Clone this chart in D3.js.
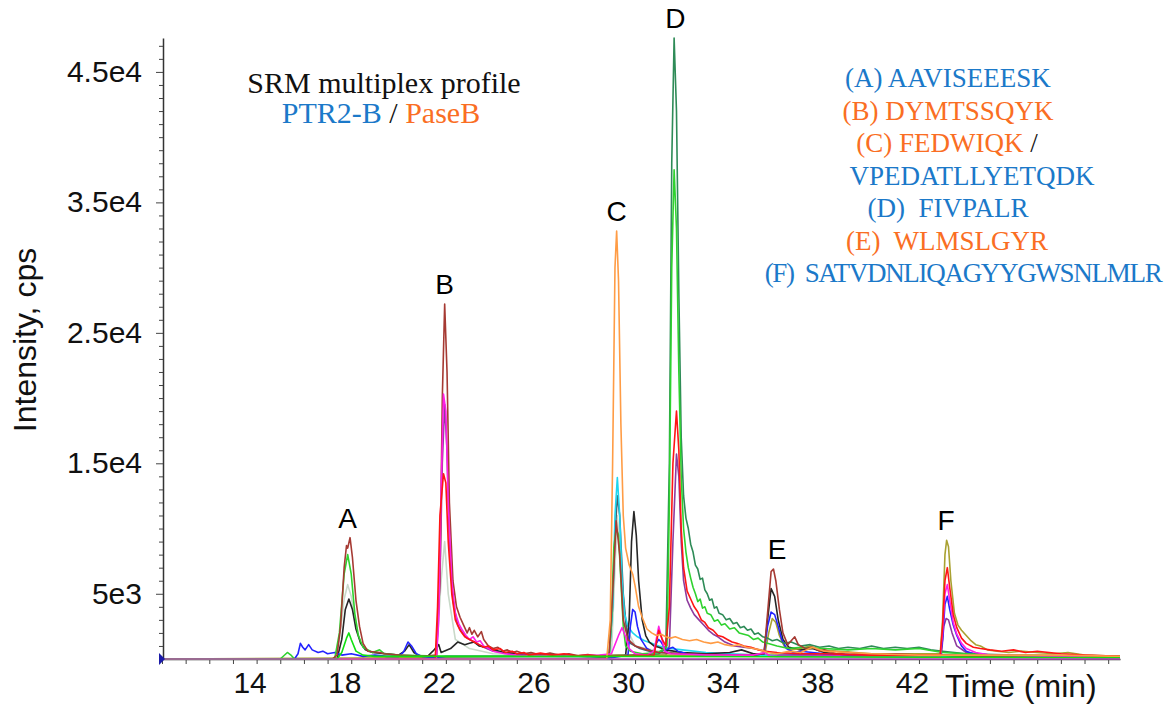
<!DOCTYPE html>
<html lang="en">
<head>
<meta charset="UTF-8">
<title>SRM multiplex profile</title>
<script src="https://cdn.jsdelivr.net/npm/d3@7"></script>
<style>
    body { margin: 0; background: #fff; }
</style>
</head>
<body>
<script>
    // axis ticks
    var xTicks = d3.range(10, 51);
    var xTickLabels = [14, 18, 22, 26, 30, 34, 38, 42];
    var yTicks = d3.range(0, 48000, 1000);
    var yLabelValues = [5000, 15000, 25000, 35000, 45000];
    var yLabelText = ["5e3", "1.5e4", "2.5e4", "3.5e4", "4.5e4"];

    // peak letters and their retention times (min)
    var peakNames = ["A", "B", "C", "D", "E", "F"];
    var peakTimes = [17.85, 21.95, 29.22, 31.7, 36.0, 43.15];

    // traces: [time (min), intensity (cps)]
    var paleTrace = [[10,0],[17.3,0],[17.5,1500],[17.7,4600],[17.85,5700],[18.0,4800],[18.2,2600],[18.4,1200],[18.7,600],[19.5,300],[21.6,200],[21.8,6000],[21.95,9000],[22.1,5000],[22.4,1500],[23,800],[24,400],[28,200],[29.0,300],[29.15,7000],[29.25,11000],[29.4,7000],[29.6,2500],[30,1000],[31,600],[33,400],[50.5,100]];
    var slateTrace = [[10,0],[28.9,0],[29.05,4000],[29.15,9500],[29.25,12500],[29.35,11000],[29.5,5000],[29.65,2000],[29.8,1200],[30.2,800],[30.6,600],[31,500],[32,400],[34,300],[40,200],[50.5,100]];
    var cyanTrace = [[10,0],[28.9,0],[29.05,4000],[29.15,11000],[29.25,13900],[29.35,11000],[29.45,6000],[29.55,3500],[29.7,2500],[29.9,2000],[30.1,1700],[30.4,1400],[30.7,1200],[31,1000],[31.5,800],[32,700],[33,500],[34,400],[35,300],[36,200],[50.5,100]];
    var purpleTrace = [[10,0],[21.6,0],[21.75,6000],[21.85,15000],[21.95,19500],[22.05,16000],[22.15,9000],[22.3,4500],[22.5,2600],[22.7,2000],[22.9,1600],[23.2,1300],[23.6,900],[24,600],[25,400],[28,200],[31.3,300],[31.45,1000],[31.6,9000],[31.75,15700],[31.85,14000],[31.95,9000],[32.05,6000],[32.2,4500],[32.35,3900],[32.5,3400],[32.7,3000],[32.9,2600],[33.1,2200],[33.3,1900],[33.5,1700],[33.8,1300],[34.2,1000],[34.6,900],[35,800],[35.5,600],[36,400],[38,300],[42.95,300],[43.05,2500],[43.15,3100],[43.25,3000],[43.4,2000],[43.6,1000],[44,500],[45,300],[50.5,100]];
    var blackTrace = [[10,0],[17.4,0],[17.6,1500],[17.75,3800],[17.9,4600],[18.05,3800],[18.2,2300],[18.4,1200],[18.6,700],[18.9,500],[19.5,400],[20,300],[20.25,600],[20.45,1100],[20.65,500],[21,100],[21.2,150],[21.45,600],[21.7,1100],[21.8,500],[22.2,800],[22.5,1300],[22.8,1100],[23.0,1200],[23.2,1300],[23.4,1000],[23.7,900],[24,700],[24.5,500],[25,400],[26,300],[28,200],[29.6,300],[29.75,3000],[29.85,9000],[29.95,11300],[30.05,9500],[30.15,6000],[30.3,3000],[30.45,1800],[30.6,1300],[30.8,1000],[31,900],[31.3,700],[32,500],[33,400],[34,500],[34.5,700],[35,400],[35.45,400],[35.6,3000],[35.75,5400],[35.9,4800],[36.05,3000],[36.25,1500],[36.5,900],[37,700],[37.5,800],[38,500],[39,300],[43,300],[50.5,100]];
    var oliveTrace = [[10,0],[20,100],[30,300],[35,300],[35.5,500],[35.65,2000],[35.8,3100],[35.95,2800],[36.1,1800],[36.3,1000],[36.6,700],[37,800],[37.4,1000],[37.8,700],[38.5,600],[40,400],[42,400],[42.9,400],[43.0,3000],[43.1,8000],[43.17,9100],[43.25,8600],[43.35,6000],[43.5,3500],[43.65,2600],[43.8,2200],[44.0,1800],[44.2,1400],[44.4,1100],[44.6,1000],[44.9,700],[45.3,600],[45.8,500],[46.3,600],[47,500],[47.7,400],[48.3,500],[49,300],[50.5,200]];
    var blueTrace = [[10,0],[15.6,0],[15.75,400],[15.85,1200],[15.95,900],[16.05,700],[16.2,1100],[16.35,700],[16.6,500],[16.8,600],[17.0,400],[17.3,500],[17.6,300],[18,400],[18.5,200],[19,300],[19.5,200],[20,200],[20.2,500],[20.4,1300],[20.55,1000],[20.75,400],[21,200],[21.5,100],[22,200],[28,200],[29,100],[29.7,300],[29.8,2500],[29.9,3800],[30.0,3600],[30.1,2500],[30.25,1500],[30.5,800],[30.8,500],[30.9,1200],[31.0,1500],[31.1,1300],[31.3,700],[31.6,900],[31.8,600],[32.2,400],[33,300],[35,300],[35.45,400],[35.6,2500],[35.75,3600],[35.9,3400],[36.05,2500],[36.2,1500],[36.4,800],[36.7,500],[37,600],[38,400],[40,300],[42.9,200],[43.0,1500],[43.1,4200],[43.2,4800],[43.3,3800],[43.45,2600],[43.6,1800],[43.8,1000],[44,600],[44.3,400],[44.6,300],[46,200],[50.5,100]];
    var seagreenTrace = [[10,0],[28,0],[29,200],[30,300],[31,400],[31.3,800],[31.45,15000],[31.55,38000],[31.65,47600],[31.75,42000],[31.85,28000],[31.95,17000],[32.05,12500],[32.15,10800],[32.25,10000],[32.35,8800],[32.45,8200],[32.55,7200],[32.65,6900],[32.75,6100],[32.85,6200],[32.95,5300],[33.05,5000],[33.15,4500],[33.25,4600],[33.35,3900],[33.45,4000],[33.55,3500],[33.7,3400],[33.85,3000],[34.0,3100],[34.15,2700],[34.3,2800],[34.45,2400],[34.6,2500],[34.75,2200],[34.9,2300],[35.05,1900],[35.2,2000],[35.4,1700],[35.6,1600],[35.8,1400],[36.0,1500],[36.3,1200],[36.6,1300],[37,1000],[37.4,1100],[37.8,900],[38.2,1000],[38.6,800],[39,900],[39.5,800],[40,1000],[40.5,800],[41,900],[41.5,800],[42,900],[42.5,700],[43,600],[44,400],[46,300],[50.5,200]];
    var greenTrace = [[10,0],[15.0,0],[15.3,500],[15.45,300],[15.6,0],[17.3,0],[17.5,2000],[17.7,6500],[17.85,8000],[18.0,6500],[18.15,3500],[18.3,1800],[18.5,900],[18.9,500],[19.2,700],[19.4,400],[20,300],[22,200],[26,200],[28.9,200],[29.0,3000],[29.1,8500],[29.2,10000],[29.3,9500],[29.4,6000],[29.5,2500],[29.6,1000],[29.8,600],[30.3,400],[31,500],[31.35,1000],[31.45,12000],[31.55,30000],[31.65,37500],[31.75,33000],[31.85,22000],[31.95,14000],[32.05,10000],[32.15,8200],[32.25,7000],[32.35,6200],[32.45,5500],[32.55,5000],[32.65,4400],[32.75,4600],[32.85,3900],[32.95,4000],[33.05,3500],[33.2,3400],[33.35,2900],[33.5,3000],[33.65,2600],[33.8,2700],[34,2300],[34.2,2400],[34.4,2000],[34.6,1900],[34.8,1800],[35,1500],[35.2,1600],[35.4,1300],[35.6,1200],[36,1000],[36.5,800],[37,900],[38,800],[39,700],[40,800],[41,700],[42,800],[43,500],[45,300],[50.5,200]];
    var brownTrace = [[10,0],[17.2,0],[17.4,300],[17.55,2500],[17.7,7000],[17.8,8700],[17.85,8500],[17.95,9300],[18.05,7800],[18.2,4500],[18.35,2500],[18.5,1200],[18.7,600],[19.2,500],[19.4,400],[20,300],[21,200],[21.6,300],[21.75,6000],[21.85,20000],[21.95,27200],[22.05,22000],[22.15,12000],[22.3,6000],[22.45,4000],[22.6,3200],[22.75,2600],[22.9,2000],[23.0,2400],[23.1,1900],[23.2,2200],[23.35,1700],[23.5,2100],[23.6,1500],[23.8,1000],[24.0,800],[24.2,900],[24.4,600],[24.6,700],[24.8,500],[25,600],[25.3,400],[25.6,500],[26,300],[26.4,450],[26.8,300],[27.2,400],[27.6,250],[28,350],[28.5,200],[28.9,300],[29.05,5000],[29.2,10600],[29.35,8000],[29.5,3000],[29.7,1500],[30.0,1000],[30.5,700],[31,500],[32,400],[33,350],[34,300],[35,300],[35.45,400],[35.6,3500],[35.75,6700],[35.85,6900],[35.95,6000],[36.1,3800],[36.25,2000],[36.45,1100],[36.6,1400],[36.75,1700],[36.9,1100],[37.2,800],[37.5,900],[37.8,600],[38,700],[38.5,400],[39,500],[40,300],[41,400],[42,300],[43,300],[44,200],[50.5,100]];
    var magentaTrace = [[10,0],[21.6,0],[21.7,3000],[21.8,13000],[21.9,20300],[22.0,19000],[22.1,12000],[22.25,6000],[22.4,3500],[22.55,2700],[22.7,2200],[22.85,1800],[23.0,1500],[23.15,1700],[23.3,1300],[23.45,1400],[23.6,1000],[23.8,800],[24,600],[24.5,400],[25,300],[27,200],[28.5,300],[29.0,400],[29.3,1800],[29.45,2400],[29.6,1700],[29.75,800],[30,400],[30.5,300],[30.8,600],[31.0,2500],[31.1,1800],[31.25,600],[31.5,400],[33,300],[35,300],[35.5,500],[35.7,200],[42.9,200],[43.0,2000],[43.1,5000],[43.2,5700],[43.3,4500],[43.45,2800],[43.6,1900],[43.8,1200],[44,800],[44.4,500],[45,300],[50.5,100]];
    var redTrace = [[10,0],[21.55,0],[21.65,4000],[21.75,11000],[21.9,14200],[22.0,13500],[22.1,9000],[22.25,5000],[22.4,3000],[22.6,2200],[22.8,1700],[23.0,1500],[23.2,1300],[23.4,1100],[23.6,900],[23.8,1000],[24,700],[24.3,800],[24.5,500],[24.8,600],[25,400],[25.3,500],[25.5,300],[26,450],[26.5,300],[27,400],[27.5,250],[28,300],[28.6,200],[30.8,300],[31.0,2200],[31.15,1500],[31.3,1000],[31.45,4000],[31.6,15000],[31.75,19000],[31.85,16000],[31.95,10000],[32.05,7000],[32.2,5200],[32.35,4600],[32.5,4000],[32.65,3600],[32.8,3000],[32.95,2800],[33.1,2400],[33.3,2200],[33.5,1800],[33.7,1700],[33.9,1500],[34.1,1300],[34.3,1200],[34.6,1000],[34.9,900],[35.2,700],[35.5,600],[36,500],[37,400],[38,400],[40,300],[42,300],[42.9,300],[43.0,2500],[43.1,6000],[43.2,7000],[43.3,5500],[43.45,3400],[43.6,2400],[43.8,1600],[44.0,1200],[44.3,900],[44.6,800],[45,700],[45.5,600],[46,700],[46.5,500],[47,600],[47.5,500],[48,400],[49,300],[50.5,200]];
    var orangeTrace = [[10,0],[28.8,0],[28.95,3000],[29.05,15000],[29.15,30000],[29.22,32800],[29.3,29000],[29.4,18000],[29.5,11000],[29.6,8500],[29.75,7200],[29.9,6500],[30.0,5600],[30.15,4000],[30.3,3200],[30.5,2300],[30.7,2000],[30.9,1800],[31.1,1900],[31.3,1700],[31.5,1600],[31.7,1700],[32.0,1500],[32.3,1400],[32.6,1500],[32.9,1300],[33.2,1200],[33.5,1300],[33.8,1100],[34.1,1000],[34.4,1100],[34.7,900],[35.0,800],[35.3,700],[35.6,500],[36,400],[36.5,600],[37,500],[37.5,900],[38,600],[39,500],[40,400],[42,300],[44,300],[46,300],[48,300],[50.5,200]];
    var green2Trace = [[10,0],[17.4,0],[17.6,500],[17.8,1600],[17.9,2000],[18.0,1500],[18.2,600],[18.5,300],[19,200],[30,200],[50.5,100]];
    var baseTrace = [[10,0],[50.5,0]];

    // bottom-to-top drawing order
    var traces = [
        {data: paleTrace, color: "#c9d9c9"},
        {data: slateTrace, color: "#43606e"},
        {data: cyanTrace, color: "#1fd6ee"},
        {data: purpleTrace, color: "#8e3b9e"},
        {data: blackTrace, color: "#262626"},
        {data: oliveTrace, color: "#a9a131"},
        {data: blueTrace, color: "#2323ff"},
        {data: seagreenTrace, color: "#2e8b57"},
        {data: greenTrace, color: "#2fd22f"},
        {data: brownTrace, color: "#a63a33"},
        {data: magentaTrace, color: "#ff1fe6"},
        {data: redTrace, color: "#ff1515"},
        {data: orangeTrace, color: "#ff9c45"},
        {data: green2Trace, color: "#11e011"},
        {data: baseTrace, color: "#b34cb8"}
    ];

    var blue = "#1b79c9", orange = "#fa6e23";
    var legendLines = [
        [["(A) AAVISEEESK", blue]],
        [["(B) DYMTSSQYK", orange]],
        [["(C) FEDWIQK", orange], [" /", "#111"]],
        [["VPEDATLLYETQDK", blue]],
        [["(D)  FIVPALR", blue]],
        [["(E)  WLMSLGYR", orange]],
        [["(F)  SATVDNLIQAGYYGWSNLMLR", blue]]
    ];
    var legendCenters = [948, 948, 947, 972, 948, 947, 963];

    var width = 1166, height = 713;
    var sans = "'Liberation Sans', Arial, sans-serif";
    var serif = "'Liberation Serif', 'Times New Roman', serif";

    var svg = d3.select("body").append("svg")
        .attr("width", width)
        .attr("height", height)
        .style("background", "#fff");

    var x = d3.scaleLinear().domain([10, 50.5]).range([162, 1120]);
    var y = d3.scaleLinear().domain([0, 47600]).range([659, 38]);

    // axes
    var gx = svg.append("g")
        .attr("transform", "translate(0," + y(0) + ")")
        .call(d3.axisBottom(x).tickValues(xTicks).tickSize(5).tickPadding(8).tickSizeOuter(0)
            .tickFormat(function (d) { return xTickLabels.indexOf(d) >= 0 ? d : ""; }));
    gx.selectAll("text").attr("dx", -7).style("font", "30px " + sans).attr("fill", "#111");

    var gy = svg.append("g")
        .attr("transform", "translate(163,0)")
        .call(d3.axisLeft(y).tickValues(yTicks).tickSize(4).tickPadding(17).tickSizeOuter(0)
            .tickFormat(function (d) {
                var i = yLabelValues.indexOf(d);
                return i >= 0 ? yLabelText[i] : "";
            }));
    gy.selectAll("text").style("font", "30px " + sans).attr("fill", "#111");
    gy.selectAll(".tick").filter(function (d) { return yLabelValues.indexOf(d) >= 0; })
        .select("line").attr("x2", -7);

    svg.selectAll(".domain").attr("stroke", "#333").attr("stroke-width", 1.5);
    svg.selectAll(".tick line").attr("stroke", "#444");

    // traces
    var line = d3.line()
        .x(function (d) { return x(d[0]); })
        .y(function (d) { return y(d[1]); });

    svg.append("g").selectAll("path")
        .data(traces)
        .enter()
        .append("path")
        .attr("d", function (d) { return line(d.data); })
        .attr("fill", "none")
        .attr("stroke", function (d) { return d.color; })
        .attr("stroke-width", 1.6)
        .attr("stroke-linejoin", "round");

    // origin marker
    svg.append("path")
        .attr("transform", "translate(" + x(10) + "," + y(0) + ")")
        .attr("d", "M-3,-6L3,0L-3,6Z")
        .attr("fill", "#1b1ba8");

    // peak letters sit just above the highest trace at each peak
    svg.append("g").selectAll("text")
        .data(peakNames)
        .enter()
        .append("text")
        .attr("x", function (d, i) { return x(peakTimes[i]); })
        .attr("y", function (d, i) {
            var t = peakTimes[i];
            var top = d3.max(traces, function (tr) {
                return d3.max(tr.data, function (p) { return Math.abs(p[0] - t) < 0.3 ? p[1] : 0; });
            });
            return y(top) - 10;
        })
        .attr("text-anchor", "middle")
        .style("font", "28px " + sans)
        .attr("fill", "#000")
        .text(function (d) { return d; });

    // axis titles
    svg.append("text")
        .attr("transform", "translate(36,340) rotate(-90)")
        .attr("text-anchor", "middle")
        .style("font", "32px " + sans)
        .attr("fill", "#111")
        .text("Intensity, cps");

    svg.append("text")
        .attr("x", 945).attr("y", 697)
        .style("font", "32px " + sans)
        .attr("fill", "#111")
        .text("Time (min)");

    // title block
    svg.append("text")
        .attr("x", 384).attr("y", 93)
        .attr("text-anchor", "middle")
        .style("font", "30px " + serif)
        .attr("fill", "#111")
        .text("SRM multiplex profile");

    var sub = svg.append("text")
        .attr("x", 381).attr("y", 123)
        .attr("text-anchor", "middle")
        .style("font", "30px " + serif);
    sub.append("tspan").attr("fill", blue).text("PTR2-B");
    sub.append("tspan").attr("fill", "#111").text(" / ");
    sub.append("tspan").attr("fill", orange).text("PaseB");

    // peptide legend
    var leg = svg.append("g").selectAll("text")
        .data(legendLines)
        .enter()
        .append("text")
        .attr("x", function (d, i) { return legendCenters[i]; })
        .attr("y", function (d, i) { return 87 + i * 32.5; })
        .attr("text-anchor", "middle")
        .style("font", "27px " + serif)
        .style("letter-spacing", function (d, i) { return i == legendLines.length - 1 ? "-1.3px" : "0px"; })
        .style("white-space", "pre");
    leg.selectAll("tspan")
        .data(function (d) { return d; })
        .enter()
        .append("tspan")
        .attr("fill", function (d) { return d[1]; })
        .text(function (d) { return d[0]; });
</script>
</body>
</html>
